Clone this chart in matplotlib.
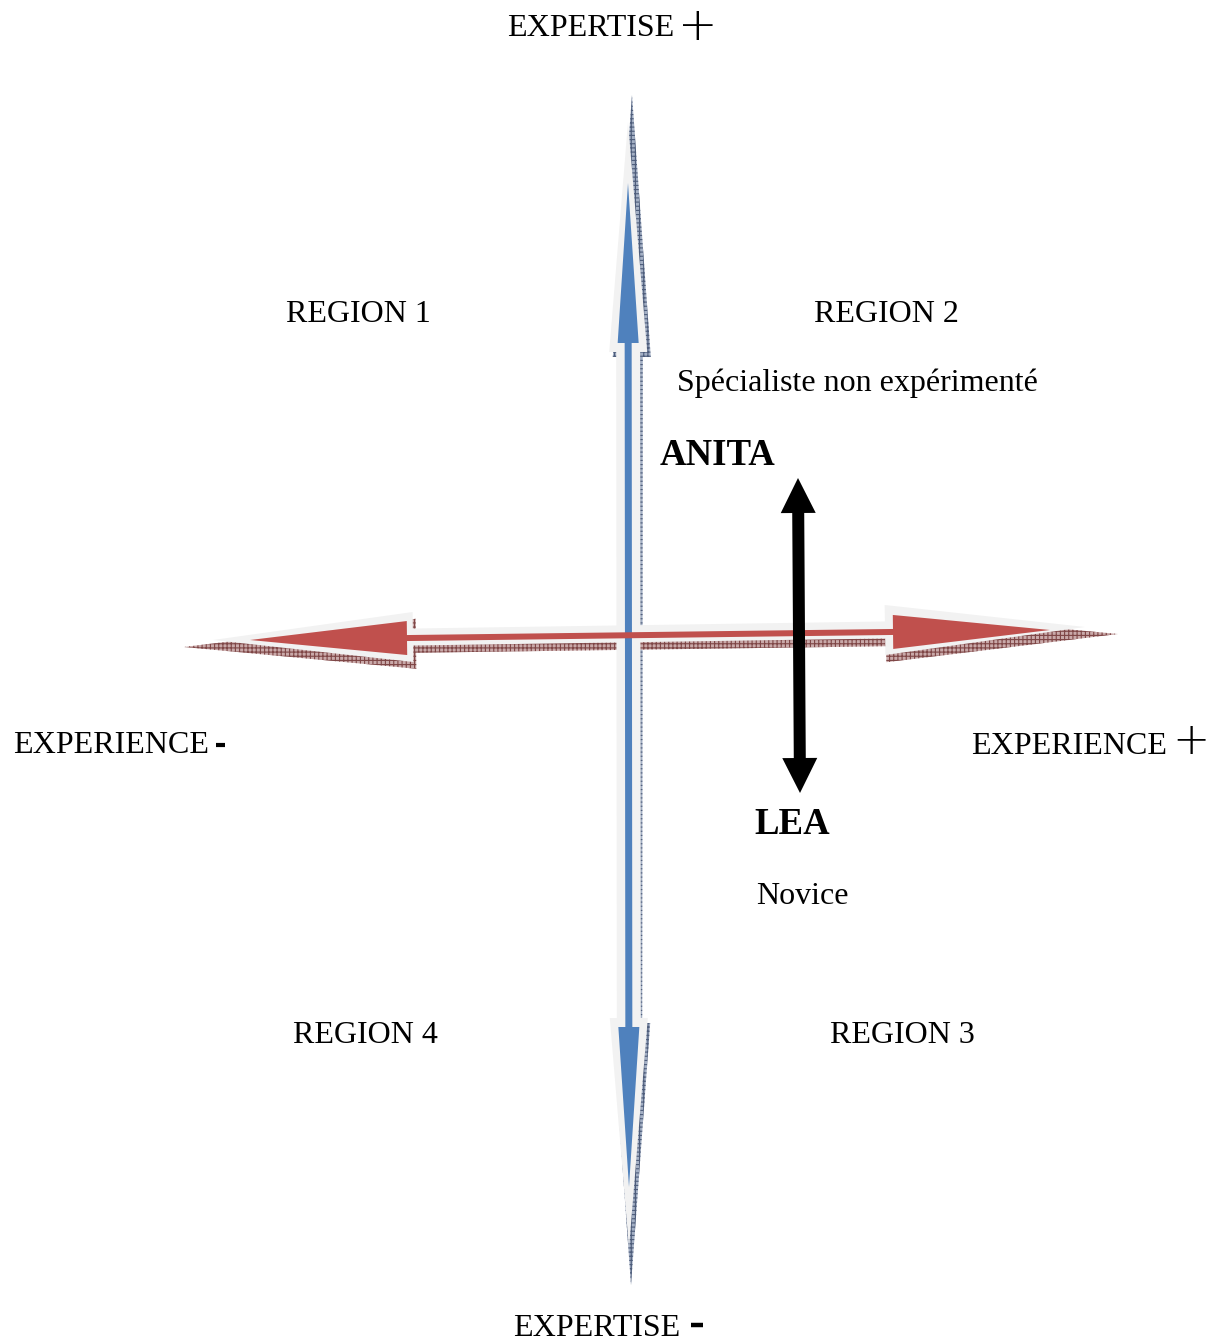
import numpy as np
import matplotlib.pyplot as plt
from matplotlib.patches import Polygon

W, H = 1215, 1343

# arrows: (start, end, shaft width, head width, head length)
expertise_axis = [(629, 1187), (628, 183), 7, 21, 160]
expertise_glow = [(629, 1248), (628, 122), 24, 38, 230]
expertise_shadow = [(631, 1285), (632, 95), 22, 38, 262]

experience_axis = [(250, 640), (1050, 630), 6, 34, 157]
experience_glow = [(213, 640), (1085, 627), 17, 50, 200]
experience_shadow = [(184, 647), (1118, 634), 18, 50, 232]

anita_lea = [(800, 793), (798, 478), 12, 35, 35]

region_labels = ["REGION 1", "REGION 2", "REGION 3", "REGION 4"]
region_pos = [(286, 322), (814, 322), (830, 1043), (293, 1043)]

serif = ["Liberation Serif", "DejaVu Serif"]


def arrow_poly(p0, p1, sw, hw, hl):
    p0 = np.array(p0, float)
    p1 = np.array(p1, float)
    u = (p1 - p0) / np.linalg.norm(p1 - p0)
    n = np.array([-u[1], u[0]])
    b0 = p0 + u * hl
    b1 = p1 - u * hl
    return [p0, b0 + n * hw / 2, b0 + n * sw / 2, b1 + n * sw / 2,
            b1 + n * hw / 2, p1, b1 - n * hw / 2, b1 - n * sw / 2,
            b0 - n * sw / 2, b0 - n * hw / 2]


plt.rcParams['hatch.linewidth'] = 0.8
fig = plt.figure(figsize=(W / 100, H / 100), dpi=100)
ax = fig.add_axes([0, 0, 1, 1])
ax.set_xlim(0, W)
ax.set_ylim(H, 0)
ax.axis('off')

# shadows
ax.add_patch(Polygon(arrow_poly(*expertise_shadow), facecolor='#a3afc4',
                     edgecolor='#4d5c7a', hatch='++++', lw=0, zorder=1))
ax.add_patch(Polygon(arrow_poly(*experience_shadow), facecolor='#c9a9a9',
                     edgecolor='#7e4646', hatch='++++', lw=0, zorder=1))
# glow
ax.add_patch(Polygon(arrow_poly(*expertise_glow), facecolor='#f2f2f2', lw=0, zorder=2))
ax.add_patch(Polygon(arrow_poly(*experience_glow), facecolor='#f2f2f2', lw=0, zorder=3))
# colored arrows
ax.add_patch(Polygon(arrow_poly(*expertise_axis), facecolor='#4f81bd', lw=0, zorder=4))
ax.add_patch(Polygon(arrow_poly(*experience_axis), facecolor='#c0504d', lw=0, zorder=5))
ax.add_patch(Polygon(arrow_poly(*anita_lea), facecolor='black', lw=0, zorder=6))

fs = 23
for lab, (x, y) in zip(region_labels, region_pos):
    ax.text(x, y, lab, family=serif, fontsize=fs, ha='left', va='baseline')

ax.text(507, 36, "EXPERTISE", family=serif, fontsize=fs, ha='left', va='baseline')
ax.text(698, 23, "+", family=["DejaVu Sans"], fontweight='light', fontsize=34,
        ha='center', va='center_baseline')
ax.text(513, H, "EXPERTISE", family=serif, fontsize=fs, ha='left', va='bottom')
ax.plot([691, 703], [1325, 1325], color='black', lw=3.2, solid_capstyle='butt')

ax.text(13, 753, "EXPERIENCE", family=serif, fontsize=fs, ha='left', va='baseline')
ax.plot([216, 225], [745, 745], color='black', lw=3.0, solid_capstyle='butt')
ax.text(971, 754, "EXPERIENCE", family=serif, fontsize=fs, ha='left', va='baseline')
ax.text(1191, 737, "+", family=["DejaVu Sans"], fontweight='light', fontsize=32,
        ha='center', va='center_baseline')

ax.text(677, 391, "Spécialiste non expérimenté", family=serif, fontsize=fs,
        ha='left', va='baseline')
ax.text(660, 465, "ANITA", family=serif, fontsize=26.5, fontweight='bold',
        ha='left', va='baseline')
ax.text(754, 834, "LEA", family=serif, fontsize=26.5, fontweight='bold',
        ha='left', va='baseline')
ax.text(756, 904, "Novice", family=serif, fontsize=fs, ha='left', va='baseline')

fig.savefig('out.png', dpi=100)
